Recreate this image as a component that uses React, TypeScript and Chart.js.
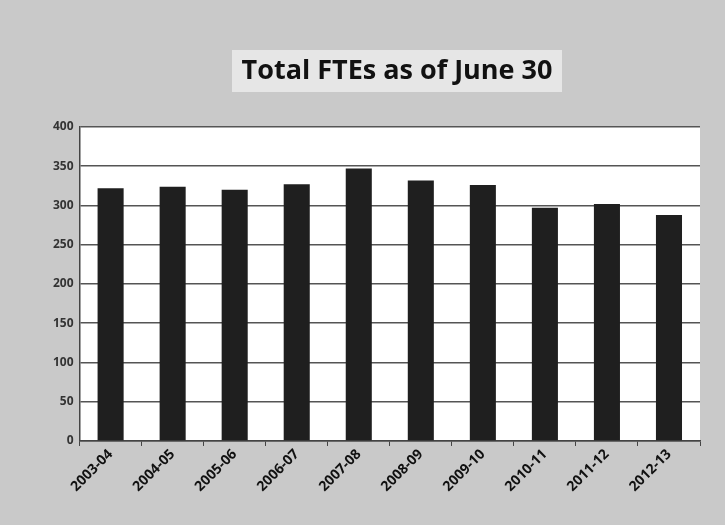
import React, { useEffect, useRef } from "react";
import { Chart, registerables } from "chart.js";

Chart.register(...registerables);

const categories = ["2003-04", "2004-05", "2005-06", "2006-07", "2007-08", "2008-09", "2009-10", "2010-11", "2011-12", "2012-13"];
const fteValues = [322, 324, 320, 327, 347, 332, 326, 297, 302, 288];
const titleText = "Total FTEs as of June 30";

const bgPlugin = {
  id: "bgPlugin",
  beforeDraw(chart: any) {
    const { ctx, chartArea, width, height } = chart;
    ctx.save();
    ctx.fillStyle = "#c9c9c9";
    ctx.fillRect(0, 0, width, height);
    ctx.fillStyle = "#e6e6e6";
    ctx.fillRect(232, 50, 330, 42);
    ctx.fillStyle = "#ffffff";
    ctx.fillRect(chartArea.left, chartArea.top, chartArea.right - chartArea.left, chartArea.bottom - chartArea.top);
    ctx.restore();
  },
  afterDraw(chart: any) {
    const { ctx } = chart;
    ctx.save();
    ctx.fillStyle = "#111";
    ctx.font = "bold 27px 'Open Sans'";
    ctx.textAlign = "center";
    ctx.textBaseline = "middle";
    ctx.fillText(titleText, 397, 71);
    ctx.restore();
  },
};

export default function App() {
  const ref = useRef<HTMLCanvasElement>(null);
  useEffect(() => {
    document.body.style.margin = "0";
    const chart = new Chart(ref.current!, {
      type: "bar",
      data: {
        labels: categories,
        datasets: [
          {
            label: "FTEs",
            data: fteValues,
            backgroundColor: "#1f1f1f",
            barPercentage: 0.42,
            categoryPercentage: 1,
          },
        ],
      },
      options: {
        animation: false,
        responsive: false,
        layout: { padding: { top: 127, left: 47, right: 25, bottom: 30 } },
        plugins: {
          legend: { display: false },
          tooltip: { enabled: false },
          title: { display: false },
        },
        scales: {
          x: {
            grid: { display: true, drawOnChartArea: false, color: "#444", tickLength: 5 },
            border: { color: "#444", width: 1.5 },
            ticks: {
              color: "#111",
              font: { family: "Open Sans", size: 14, weight: "bold" },
              maxRotation: 45,
              minRotation: 45,
              padding: 0,
            },
          },
          y: {
            min: 0,
            max: 400,
            ticks: {
              stepSize: 50,
              color: "#333",
              font: { family: "Open Sans", size: 12, weight: "bold" },
              padding: 6,
            },
            grid: { color: "#555", lineWidth: 1.5, tickLength: 0 },
            border: { color: "#444", width: 1.5 },
          },
        },
      },
      plugins: [bgPlugin],
    });
    return () => chart.destroy();
  }, []);
  return <canvas ref={ref} width={725} height={525} />;
}
